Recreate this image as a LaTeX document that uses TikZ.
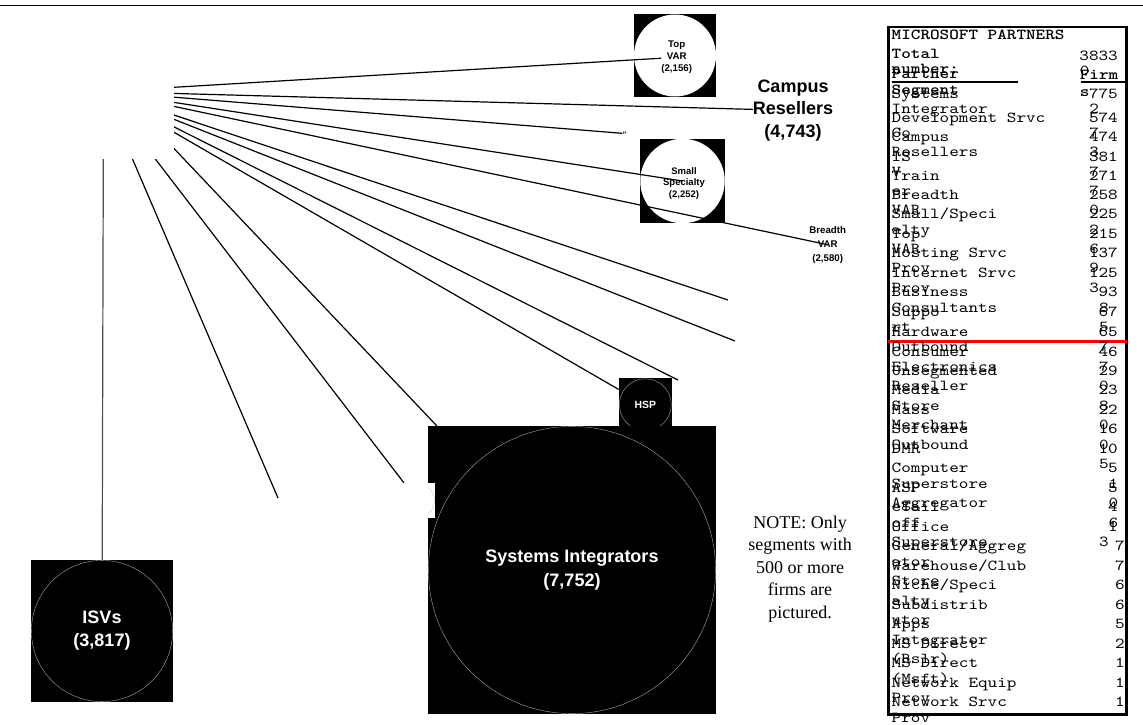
\documentclass[tikz,border=0pt]{standalone}
\usepackage{fontspec}
\setmainfont{Liberation Serif}
\setsansfont{Liberation Sans}
\newfontfamily\celltt[FakeStretch=1.2, BoldFont=lmmonolt10-bold.otf]{lmmono10-regular.otf}
\newcommand\cellfont{\celltt\fontsize{15.24}{15.5}\selectfont}

\begin{document}
\begin{tikzpicture}[x=1pt, y=-1pt,
    link/.style={line width=1.2pt},
    lightball/.style={rectangle, fill=black, inner sep=0pt, minimum size=#1pt,
        path picture={\fill[white] (path picture bounding box.center) circle[radius=#1pt/2];}},
    darkball/.style={rectangle, fill=black, inner sep=0pt, minimum size=#1pt, text=white,
        path picture={\draw[gray!70, line width=0.4pt] (path picture bounding box.center) circle[radius=#1pt/2-0.4pt];}},
    seglabel/.style 2 args={align=center, inner sep=0pt, font=\sffamily\bfseries\fontsize{#1}{#2}\selectfont},
    cell/.style={font=\cellfont, anchor=base west, inner sep=0pt},
    cellbold/.style={cell, font=\cellfont\bfseries},
    cellnum/.style={cell, anchor=base east}]
        \useasboundingbox (0,0) rectangle (1143,725);
        \draw[line width=1.6pt] (0,5.5) -- (1143,5.5);

        % segment bubbles
        \node[lightball=82] (topvar) at (675,55.5) {};
        \node[lightball=84.5] (smallspec) at (682.5,181) {};
        \node[darkball=52.7, seglabel={10.4}{12}] (hsp) at (645.3,404.7) {HSP};
        \node[darkball=142, seglabel={18}{23}] (isv) at (102,631) {ISVs\\(3,817)};
        \node[darkball=288, seglabel={18}{24}] (si) at (572,570) {Systems Integrators\\(7,752)};
        \node[rectangle, fill=white, inner sep=0pt, minimum size=35pt,
            path picture={\draw[gray!40, line width=0.4pt] (path picture bounding box.center)
                ++(-50:17pt) arc[start angle=-50, end angle=50, radius=17pt];}]
            (smallsi) at (417.5,500.5) {};

        \node[seglabel={9.7}{12}] (topvarlab) at (676.7,57.3) {Top\\VAR\\(2,156)};
        \node[seglabel={9.5}{11.7}] (smalllab) at (684,183.3) {Small\\Specialty\\(2,252)};
        \node[seglabel={9.7}{13.8}] (breadth) at (827.7,244.7) {Breadth\\VAR\\(2,580)};
        \node[seglabel={18}{22.5}] (campus) at (793,110.5) {Campus\\Resellers\\(4,743)};
        \node[seglabel={4}{4}, inner sep=0.5pt] (hmark) at (624.5,133.5) {H};
        \node[align=center, font=\rmfamily\fontsize{18}{22.6}\selectfont] (note) at (800,569) {NOTE: Only\\segments with\\500 or more\\firms are\\pictured.};

        \coordinate (hub) at (103.5,91.5);
        \coordinate (hubb) at (120,91.5);
        \coordinate (stub1) at (728,300);
        \coordinate (stub2) at (735,341);
        \coordinate (stub3) at (678,380);
        \coordinate (stub4) at (278,498);

        \begin{scope}
        \clip (174,8) rectangle (1143,725) (0,159) rectangle (1143,725);
        \path[link]
        (hub) edge (topvarlab)
        (hub) edge (campus)
        (hub) edge (hmark)
        (hub) edge (smallspec.center)
        (hub) edge (breadth.center)
        (hub) edge (stub1)
        (hub) edge (stub2)
        (hub) edge (stub3)
        (hub) edge (hsp)
        (hubb) edge (si)
        (hub) edge (smallsi)
        (hub) edge (stub4)
        (hub) edge[black!70] (isv);
        \end{scope}

        % partner table
        \draw[line width=2.6pt] (888.3,27) rectangle (1126.7,714.5);
        \draw[red, line width=2.2pt] (888.3,341.5) -- (1126.7,341.5);
        \draw[line width=2.4pt] (891.7,82.2) -- (1018.3,82.2);
        \draw[line width=2.4pt] (1080.7,82.2) -- (1125,82.2);

        \node[cellbold] (title) at (891.5,40) {MICROSOFT PARTNERS};
        \node[cellbold] (total) at (891.5,58.3) {Total};
        \node[cellbold] (totalwrap) at (891.5,73.8) {number:};
        \node[cellnum] (totalnum) at (1118,60) {3833};
        \node[cell] (totalcarry) at (1079.6,75.5) {0};
        \node[cellbold] (seghead) at (891.5,78.3) {Partner};
        \node[cellbold] (segheadwrap) at (891.5,95) {Segment};
        \node[cellbold] (firmhead) at (1079.6,79.3) {Firm};
        \node[cellbold] (firmheadwrap) at (1079.6,96.7) {s};

        \foreach \ry/\la/\lb/\num/\cd/\cx/\nx [count=\i] in {
            93.3/Systems/Integrator/775/2/1089.2/1118,
            117/Development Srvc/Co/574/7/1089.2/1118,
            136/Campus/Resellers/474/3/1089.2/1118,
            156/IS/V/381/7/1089.2/1118,
            175/Train/er/271/7/1089.2/1118,
            194/Breadth/VAR/258/0/1089.2/1118,
            213.5/{Small/Speci}/alty/225/2/1089.2/1118,
            233/Top/VAR/215/6/1089.2/1118,
            252/Hosting Srvc/Prov/137/9/1089.2/1118,
            272/Internet Srvc/Prov/125/3/1089.2/1118,
            291.5/Business/Consultants/93/8/1098.8/1118,
            311/Suppo/rt/67/5/1098.8/1118,
            331/Hardware/Outbound/65/7/1098.8/1118,
            351/Consumer/Electronics/46/7/1098.8/1118,
            370/Unsegmented/Reseller/29/0/1098.8/1118,
            389.5/Media/Store/23/8/1098.8/1118,
            409/Mass/Merchant/22/0/1098.8/1118,
            428.5/Software/Outbound/16/0/1098.8/1118,
            448/DMR//10/5/1098.8/1118,
            467.5/Computer/Superstore/5/1/1108.4/1118,
            487/ASP/Aggregator/5/0/1108.4/1118,
            506.5/eTail/off/4/6/1108.4/1118,
            526/Office/Superstore/1/3/1098.8/1118,
            545.5/{General/Aggreg}/ator/7//1100/1125,
            565/{Warehouse/Club}/Store/7//1100/1125,
            584.5/{Niche/Speci}/alty/6//1100/1125,
            604/Subdistrib/utor/6//1100/1125,
            623.5/Apps/Integrator/5//1100/1125,
            643/MS Direct/(Rslr)/2//1100/1125,
            662.5/MS Direct/(Msft)/1//1100/1125,
            682/Network Equip/Prov/1//1100/1125,
            701.5/Network Srvc/Prov/1//1100/1125}{
            \node[cell] (seg\i) at (891.5,\ry+5) {\la};
            \node[cell] (segwrap\i) at (891.5,\ry+20.5) {\lb};
            \node[cellnum] (firms\i) at (\nx,\ry+5) {\num};
            \node[cell] (carry\i) at (\cx,\ry+20.5) {\cd};
        }
\end{tikzpicture}
\end{document}
